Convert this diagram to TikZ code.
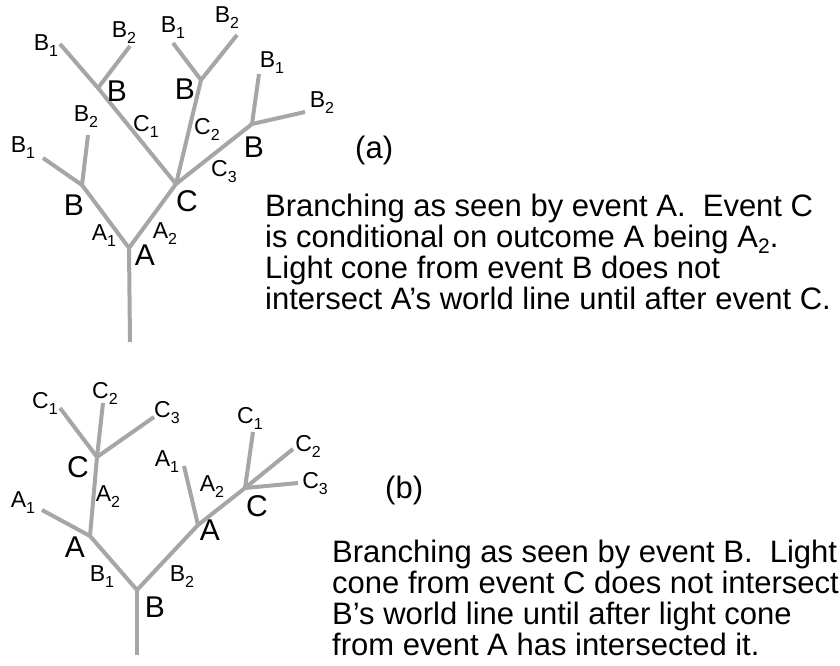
\documentclass[tikz,border=0pt]{standalone}
\usepackage{fontspec}
\setmainfont{Liberation Sans}
\definecolor{branchgray}{RGB}{166,166,166}
\newcommand{\lb}[2]{#1\raisebox{-0.26em}{\fontsize{16}{16}\selectfont #2}}
\newcommand{\tsub}[1]{\raisebox{-0.22em}{\fontsize{21}{21}\selectfont #1}}
\begin{document}
\begin{tikzpicture}[x=1pt,y=-1pt,
  br/.style={draw=branchgray, line width=4pt, line join=round},
  big/.style={font=\fontsize{30}{32}\selectfont, inner sep=0pt},
  sml/.style={font=\fontsize{23}{25}\selectfont, inner sep=0pt},
  txt/.style={font=\fontsize{31}{31}\selectfont, inner sep=0pt, anchor=base west}]
\fill[white] (0,0) rectangle (840,666);
\clip (0,0) rectangle (840,666);
% ---------- tree (a) ----------
\coordinate (aA) at (129,248);
\coordinate (aBot) at (130,342);
\coordinate (aBl) at (82,185);
\coordinate (aBl1) at (43,158);
\coordinate (aBl2) at (88,135);
\coordinate (aC) at (176,184);
\coordinate (aBu) at (98,88);
\coordinate (aBu1) at (60,44);
\coordinate (aBu2) at (130,46);
\coordinate (aBm) at (201,80);
\coordinate (aBm1) at (173,43);
\coordinate (aBm2) at (237,35);
\coordinate (aBr) at (252,124);
\coordinate (aBr1) at (259,74);
\coordinate (aBr2) at (305,112);
\draw[br] (aBot) -- (aA);
\draw[br] (aA) -- (aBl);
\draw[br] (aBl) -- (aBl1);
\draw[br] (aBl) -- (aBl2);
\draw[br] (aA) -- (aC);
\draw[br] (aC) -- (aBu) -- (aBu1);
\draw[br] (aBu) -- (aBu2);
\draw[br] (aC) -- (aBm);
\draw[br] (aBm) -- (aBm1);
\draw[br] (aBm) -- (aBm2);
\draw[br] (aC) -- (aBr);
\draw[br] (aBr) -- (aBr1);
\draw[br] (aBr) -- (aBr2);
\node[sml] (laBu1) at (46,46) {\lb{B}{1}};
\node[sml] (laBu2) at (124,33) {\lb{B}{2}};
\node[big] (laBu) at (117,91) {B};
\node[sml] (laC1) at (146,126) {\lb{C}{1}};
\node[sml] (laBm1) at (173,28) {\lb{B}{1}};
\node[sml] (laBm2) at (227,18) {\lb{B}{2}};
\node[big] (laBm) at (185,89) {B};
\node[sml] (laC2) at (207,129) {\lb{C}{2}};
\node[sml] (laBr1) at (272,63) {\lb{B}{1}};
\node[sml] (laBr2) at (322,103) {\lb{B}{2}};
\node[big] (laBr) at (254,147) {B};
\node[sml] (laC3) at (224,172) {\lb{C}{3}};
\node[sml] (laBl2) at (86,117) {\lb{B}{2}};
\node[sml] (laBl1) at (23,148) {\lb{B}{1}};
\node[big] (laBl) at (74,205) {B};
\node[big] (laC) at (187,201) {C};
\node[sml] (laA1) at (104,236) {\lb{A}{1}};
\node[sml] (laA2) at (165,234) {\lb{A}{2}};
\node[big] (laA) at (145,255) {A};
\node[txt] (pa) at (355,158) {(a)};
\node[txt] (ta1) at (265,216) {Branching as seen by event A.~~Event C};
\node[txt] (ta2) at (265,247) {is conditional on outcome A being A\tsub{2}.};
\node[txt] (ta3) at (265,278) {Light cone from event B does not};
\node[txt] (ta4) at (265,309) {intersect A’s world line until after event C.};
% ---------- tree (b) ----------
\coordinate (bB) at (137,590);
\coordinate (bBot) at (137,655);
\coordinate (bAl) at (90,536);
\coordinate (bAl1) at (42,510);
\coordinate (bCu) at (97,457);
\coordinate (bCu1) at (60,408);
\coordinate (bCu2) at (103,403);
\coordinate (bCu3) at (154,417);
\coordinate (bAr) at (198,525);
\coordinate (bAr1) at (184,466);
\coordinate (bCr) at (245,488);
\coordinate (bCr1) at (253,432);
\coordinate (bCr2) at (293,449);
\coordinate (bCr3) at (298,483);
\draw[br] (bBot) -- (bB);
\draw[br] (bB) -- (bAl);
\draw[br] (bAl) -- (bAl1);
\draw[br] (bAl) -- (bCu);
\draw[br] (bCu) -- (bCu1);
\draw[br] (bCu) -- (bCu2);
\draw[br] (bCu) -- (bCu3);
\draw[br] (bB) -- (bAr);
\draw[br] (bAr) -- (bAr1);
\draw[br] (bAr) -- (bCr);
\draw[br] (bCr) -- (bCr1);
\draw[br] (bCr) -- (bCr2);
\draw[br] (bCr) -- (bCr3);
\node[sml] (lbCu1) at (45,403) {\lb{C}{1}};
\node[sml] (lbCu2) at (105,393) {\lb{C}{2}};
\node[sml] (lbCu3) at (167,413) {\lb{C}{3}};
\node[big] (lbCu) at (78,467) {C};
\node[sml] (lbA2l) at (108,497) {\lb{A}{2}};
\node[sml] (lbA1l) at (23,503) {\lb{A}{1}};
\node[big] (lbAl) at (75,547) {A};
\node[sml] (lbB1) at (102,577) {\lb{B}{1}};
\node[sml] (lbB2) at (182,577) {\lb{B}{2}};
\node[big] (lbB) at (155,607) {B};
\node[sml] (lbA1r) at (167,462) {\lb{A}{1}};
\node[sml] (lbA2r) at (212,487) {\lb{A}{2}};
\node[big] (lbAr) at (210,530) {A};
\node[big] (lbCr) at (257,506) {C};
\node[sml] (lbCr1) at (250,418) {\lb{C}{1}};
\node[sml] (lbCr2) at (308,446) {\lb{C}{2}};
\node[sml] (lbCr3) at (315,484) {\lb{C}{3}};
\node[txt] (pb) at (385,498) {(b)};
\node[txt] (tb1) at (332,562) {Branching as seen by event B.~~Light};
\node[txt] (tb2) at (332,593) {cone from event C does not intersect};
\node[txt] (tb3) at (332,624) {B’s world line until after light cone};
\node[txt] (tb4) at (332,655) {from event A has intersected it.};
\end{tikzpicture}
\end{document}
